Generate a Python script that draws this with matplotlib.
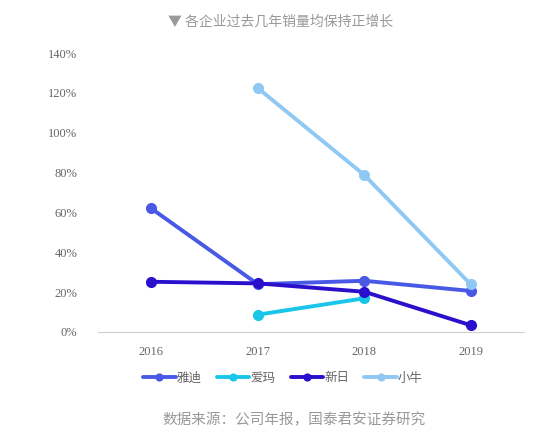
import numpy as np
import matplotlib
matplotlib.use('Agg')
import matplotlib.pyplot as plt

plt.rcParams['font.family'] = ['Noto Sans CJK SC', 'DejaVu Sans']

# ----------------------------------------------

years = ['2016', '2017', '2018', '2019']
yadi = [62.0, 24.0, 25.7, 20.6]
aima = [np.nan, 8.7, 16.9, np.nan]
xinri = [25.2, 24.4, 20.2, 3.4]
xiaoniu = [np.nan, 122.4, 78.8, 23.9]

names = ['雅迪', '爱玛', '新日', '小牛']
colors = ['#4859e6', '#19c6ea', '#2a10cc', '#90c8f4']
yticks = [0, 20, 40, 60, 80, 100, 120, 140]

# ----------------------------------------------

fig = plt.figure(figsize=(5.5, 4.37), dpi=100)
ax = fig.add_axes([98/550, 1-332/437, 426/550, 279/437])

x = np.arange(len(years))
for vals, name, c in zip([yadi, aima, xinri, xiaoniu], names, colors):
  ax.plot(x, vals, '-o', color=c, lw=2.8, ms=7, label=name, solid_capstyle='round')

ax.set_xlim(-0.5, len(years) - 0.5)
ax.set_ylim(0, 140)
ax.set_xticks(x)
ax.set_xticklabels(years, fontfamily='Liberation Serif', fontsize=9, color='#666666')
ax.set_yticks(yticks)
ax.set_yticklabels(['%d%%' % v for v in yticks], fontfamily='Liberation Serif', fontsize=9, color='#666666')
ax.tick_params(length=0)
ax.tick_params(axis='y', pad=15)
ax.tick_params(axis='x', pad=10)
for s in ['top', 'right', 'left']:
  ax.spines[s].set_visible(False)
ax.spines['bottom'].set_color('#d0d0d0')

fig.text(281/550, 1-22/437, '▼ 各企业过去几年销量均保持正增长', ha='center', va='center',
         fontsize=10, color='#999999', family=['Noto Sans CJK SC', 'DejaVu Sans'])

fig.legend(loc='center', bbox_to_anchor=(283/550, 1-378/437), ncol=4, frameon=False,
           fontsize=9, handlelength=2.6, handletextpad=0.1, columnspacing=1.2,
           labelcolor='#666666', markerscale=0.7)

fig.text(294/550, 1-420/437, '数据来源：公司年报，国泰君安证券研究', ha='center', va='center',
         fontsize=10.5, color='#999999')

fig.savefig('out.png', dpi=100)
